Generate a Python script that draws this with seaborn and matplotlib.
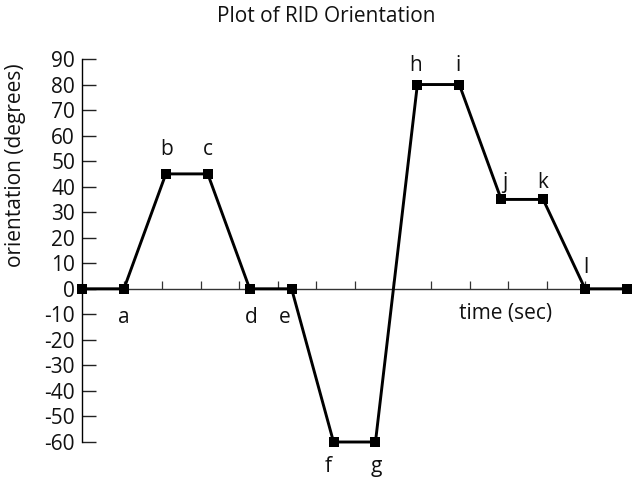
import numpy as np
import pandas as pd
import matplotlib
matplotlib.use("Agg")
import matplotlib.pyplot as plt
import seaborn as sns

# Orientation of the RID at each labelled instant
times = [0, 1, 2, 3, 4, 5, 6, 7, 8, 9, 10, 11, 12, 13]
orientation = [0, 0, 45, 45, 0, 0, -60, -60, 80, 80, 35, 35, 0, 0]
point_labels = ["", "a", "b", "c", "d", "e", "f", "g", "h", "i", "j", "k", "l", ""]

# label offsets from each marker, in pixels (dx right, dy up)
label_offsets = [(0, 0), (0, -34), (1, 19), (0, 19), (2, -34), (-7, -34),
                 (-5, -30), (1, -30), (-2, 14), (-1, 14), (4, 11), (0, 11),
                 (1, 16), (0, 0)]

y_ticks = list(range(-60, 91, 10))

sns.set_theme(style="white")
plt.rcParams["font.family"] = ["Open Sans", "DejaVu Sans"]

DPI = 100
TEXT = "#111111"
fig = plt.figure(figsize=(6.33, 4.79), dpi=DPI)
ax = fig.add_axes([82 / 633, 37 / 479, 545 / 633, 383 / 479])

df = pd.DataFrame({"time": times, "orientation": orientation})
sns.lineplot(data=df, x="time", y="orientation", ax=ax, sort=False,
             estimator=None, color="black", linewidth=2.1,
             marker="s", markersize=6.8, markeredgewidth=0,
             markerfacecolor="black", clip_on=False, zorder=5)

ax.set_xlim(0, 13)
ax.set_ylim(-60, 90)

# spines: left axis, and the time axis running through zero
ax.spines["top"].set_visible(False)
ax.spines["right"].set_visible(False)
ax.spines["bottom"].set_position(("data", 0))
ax.spines["bottom"].set_color("#333333")
ax.spines["bottom"].set_linewidth(1.0)
ax.spines["left"].set_color("black")
ax.spines["left"].set_linewidth(1.0)

ax.set_yticks(y_ticks)
ax.set_yticklabels([str(v) for v in y_ticks])
ax.tick_params(axis="y", direction="in", length=10, width=1.0,
               color="#222222", pad=5, labelsize=15, labelcolor=TEXT,
               left=True)

ax.set_xticks(np.linspace(1, 12, 13))
ax.tick_params(axis="x", direction="in", length=5.5, width=0.9,
               color="#333333", labelbottom=False, bottom=True)
ax.grid(False)

ax.set_xlabel("")
ax.set_ylabel("orientation (degrees)", fontsize=15, color=TEXT)
ax.yaxis.set_label_coords(-0.1028, 0.723)

for t, v, lab, (dx, dy) in zip(times, orientation, point_labels, label_offsets):
    if not lab:
        continue
    ax.annotate(lab, (t, v), xytext=(dx * 72 / DPI, dy * 72 / DPI),
                textcoords="offset points", ha="center", va="baseline",
                fontsize=15, color=TEXT, annotation_clip=False)

ax.text(10.1, -11.8, "time (sec)", ha="center", va="baseline",
        fontsize=15, color=TEXT)

fig.text(326 / 633, 1 - 22 / 479, "Plot of RID Orientation",
         ha="center", va="baseline", fontsize=15, color=TEXT)

fig.savefig("out.png", dpi=DPI, facecolor="white")
